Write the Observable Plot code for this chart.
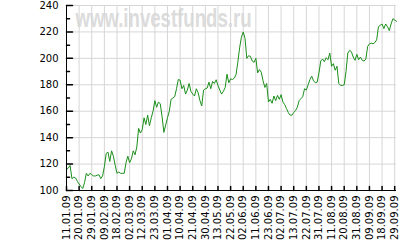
<!DOCTYPE html>
<html>
<head>
<meta charset="utf-8">
<script src="https://cdn.jsdelivr.net/npm/d3@7"></script>
<script src="https://cdn.jsdelivr.net/npm/@observablehq/plot@0.6"></script>
<style>
  html, body { margin: 0; padding: 0; background: #fff; }
  #chart svg { display: block; }
</style>
</head>
<body>
<div id="chart"></div>
<script>
// Tick labels (every 7th trading day)
const tickLabels = ["11.01.09","20.01.09","29.01.09","09.02.09","18.02.09","02.03.09","12.03.09","23.03.09","01.04.09","10.04.09","21.04.09","30.04.09","13.05.09","22.05.09","02.06.09","11.06.09","23.06.09","02.07.09","13.07.09","22.07.09","31.07.09","11.08.09","20.08.09","31.08.09","09.09.09","18.09.09","29.09.09"];
const tickIndex = [0,7,14,21,28,35,42,49,56,63,70,77,84,91,98,105,112,119,126,133,140,147,154,161,168,175,182];
const yMajor = [100,120,140,160,180,200,220,240];
const yMinor = [110,130,150,170,190,210,230];
const watermark = ["www.investfunds.ru"];

// Daily values (trading-day index 0..183)
const values = [
  116,117,119,109,110,109.5,107,105,103,101.5,
  106,113,111,113,112,111,111,111.5,112,109,
  111,118,128,129,122,130,126,119,113,114,
  113,113,113,121,126,121,124,130,127,133,
  147,143.5,146,155,150,157,149,155,160,168,
  163,167,165.5,156,144,149.5,155,160,169,170,
  171,177,184,183.5,177,179.5,173,176,181,175,
  173,171.5,177,174,168,164,176,177,177.5,182,
  177,182.5,181,183.8,179.5,176,173,175,178,188,
  181.5,184.5,184,185,187.5,197,208,216,220,215,
  200,202,201.5,198,197,200,189,191.5,189.5,183,
  178,181,167,169,166,171.5,168,172,169,172.5,
  167,165,162,159,157,157,159,160.5,163,168,
  169.5,171,177,176,180,184,186.5,183,181.5,182,
  189,198,199.5,197.5,200.5,199,204,194,196,191,
  194,181,179.5,179.5,180,190,204,206,205,201,
  198.5,203,199,201,198.5,198,199.5,209,211,211.5,
  211,212,214,224,225,226,222.5,226,224,221,
  226,230,229,228
];
const data = values.map((v, i) => ({i, v}));

const lineShape = {draw(context, l) { context.moveTo(0, 0); context.lineTo(0, -l); }};
const font = "DejaVu Sans, Verdana, sans-serif";

const chart = Plot.plot({
  width: 400,
  height: 250,
  marginLeft: 66,
  marginRight: 4,
  marginTop: 5,
  marginBottom: 60,
  style: {fontFamily: font, fontSize: "10px", color: "#000", background: "#fff"},
  x: {domain: [0, 183]},
  y: {domain: [100, 240]},
  marks: [
    Plot.text(watermark, {
      frameAnchor: "top-left", textAnchor: "start", lineAnchor: "top",
      dx: 9, dy: 4, fontSize: 25, fontWeight: "bold",
      fontFamily: "Liberation Sans, Arial, sans-serif", fill: "#dcdcdc"
    }),
    Plot.gridX(tickIndex, {stroke: "#d6d6d6", strokeOpacity: 1, strokeWidth: 1}),
    Plot.gridY(yMajor, {stroke: "#d6d6d6", strokeOpacity: 1, strokeWidth: 1}),
    Plot.line(data, {x: "i", y: "v", stroke: "#1a8f1a", strokeWidth: 1}),
    Plot.ruleX([0], {stroke: "#000"}),
    Plot.ruleY([100], {stroke: "#000"}),
    Plot.vector(yMajor, {x: 0, y: d => d, length: 6, rotate: 90, anchor: "start", shape: lineShape, stroke: "#000"}),
    Plot.vector(yMinor, {x: 0, y: d => d, length: 3, rotate: 90, anchor: "start", shape: lineShape, stroke: "#000"}),
    Plot.vector(tickIndex, {x: d => d, y: 100, length: 4, rotate: 0, anchor: "start", shape: lineShape, stroke: "#000"}),
    Plot.axisY(yMajor, {tickSize: 0, tickPadding: 8, label: null, fontSize: 10}),
    Plot.axisX(tickIndex, {
      tickSize: 0, tickPadding: 5, tickRotate: -90, label: null, fontSize: 10,
      tickFormat: d => tickLabels[tickIndex.indexOf(d)]
    })
  ]
});

document.getElementById("chart").appendChild(chart);
chart.querySelectorAll("text").forEach(t => {
  if (t.textContent === watermark[0]) {
    t.setAttribute("textLength", "176");
    t.setAttribute("lengthAdjust", "spacingAndGlyphs");
  }
});
</script>
</body>
</html>
